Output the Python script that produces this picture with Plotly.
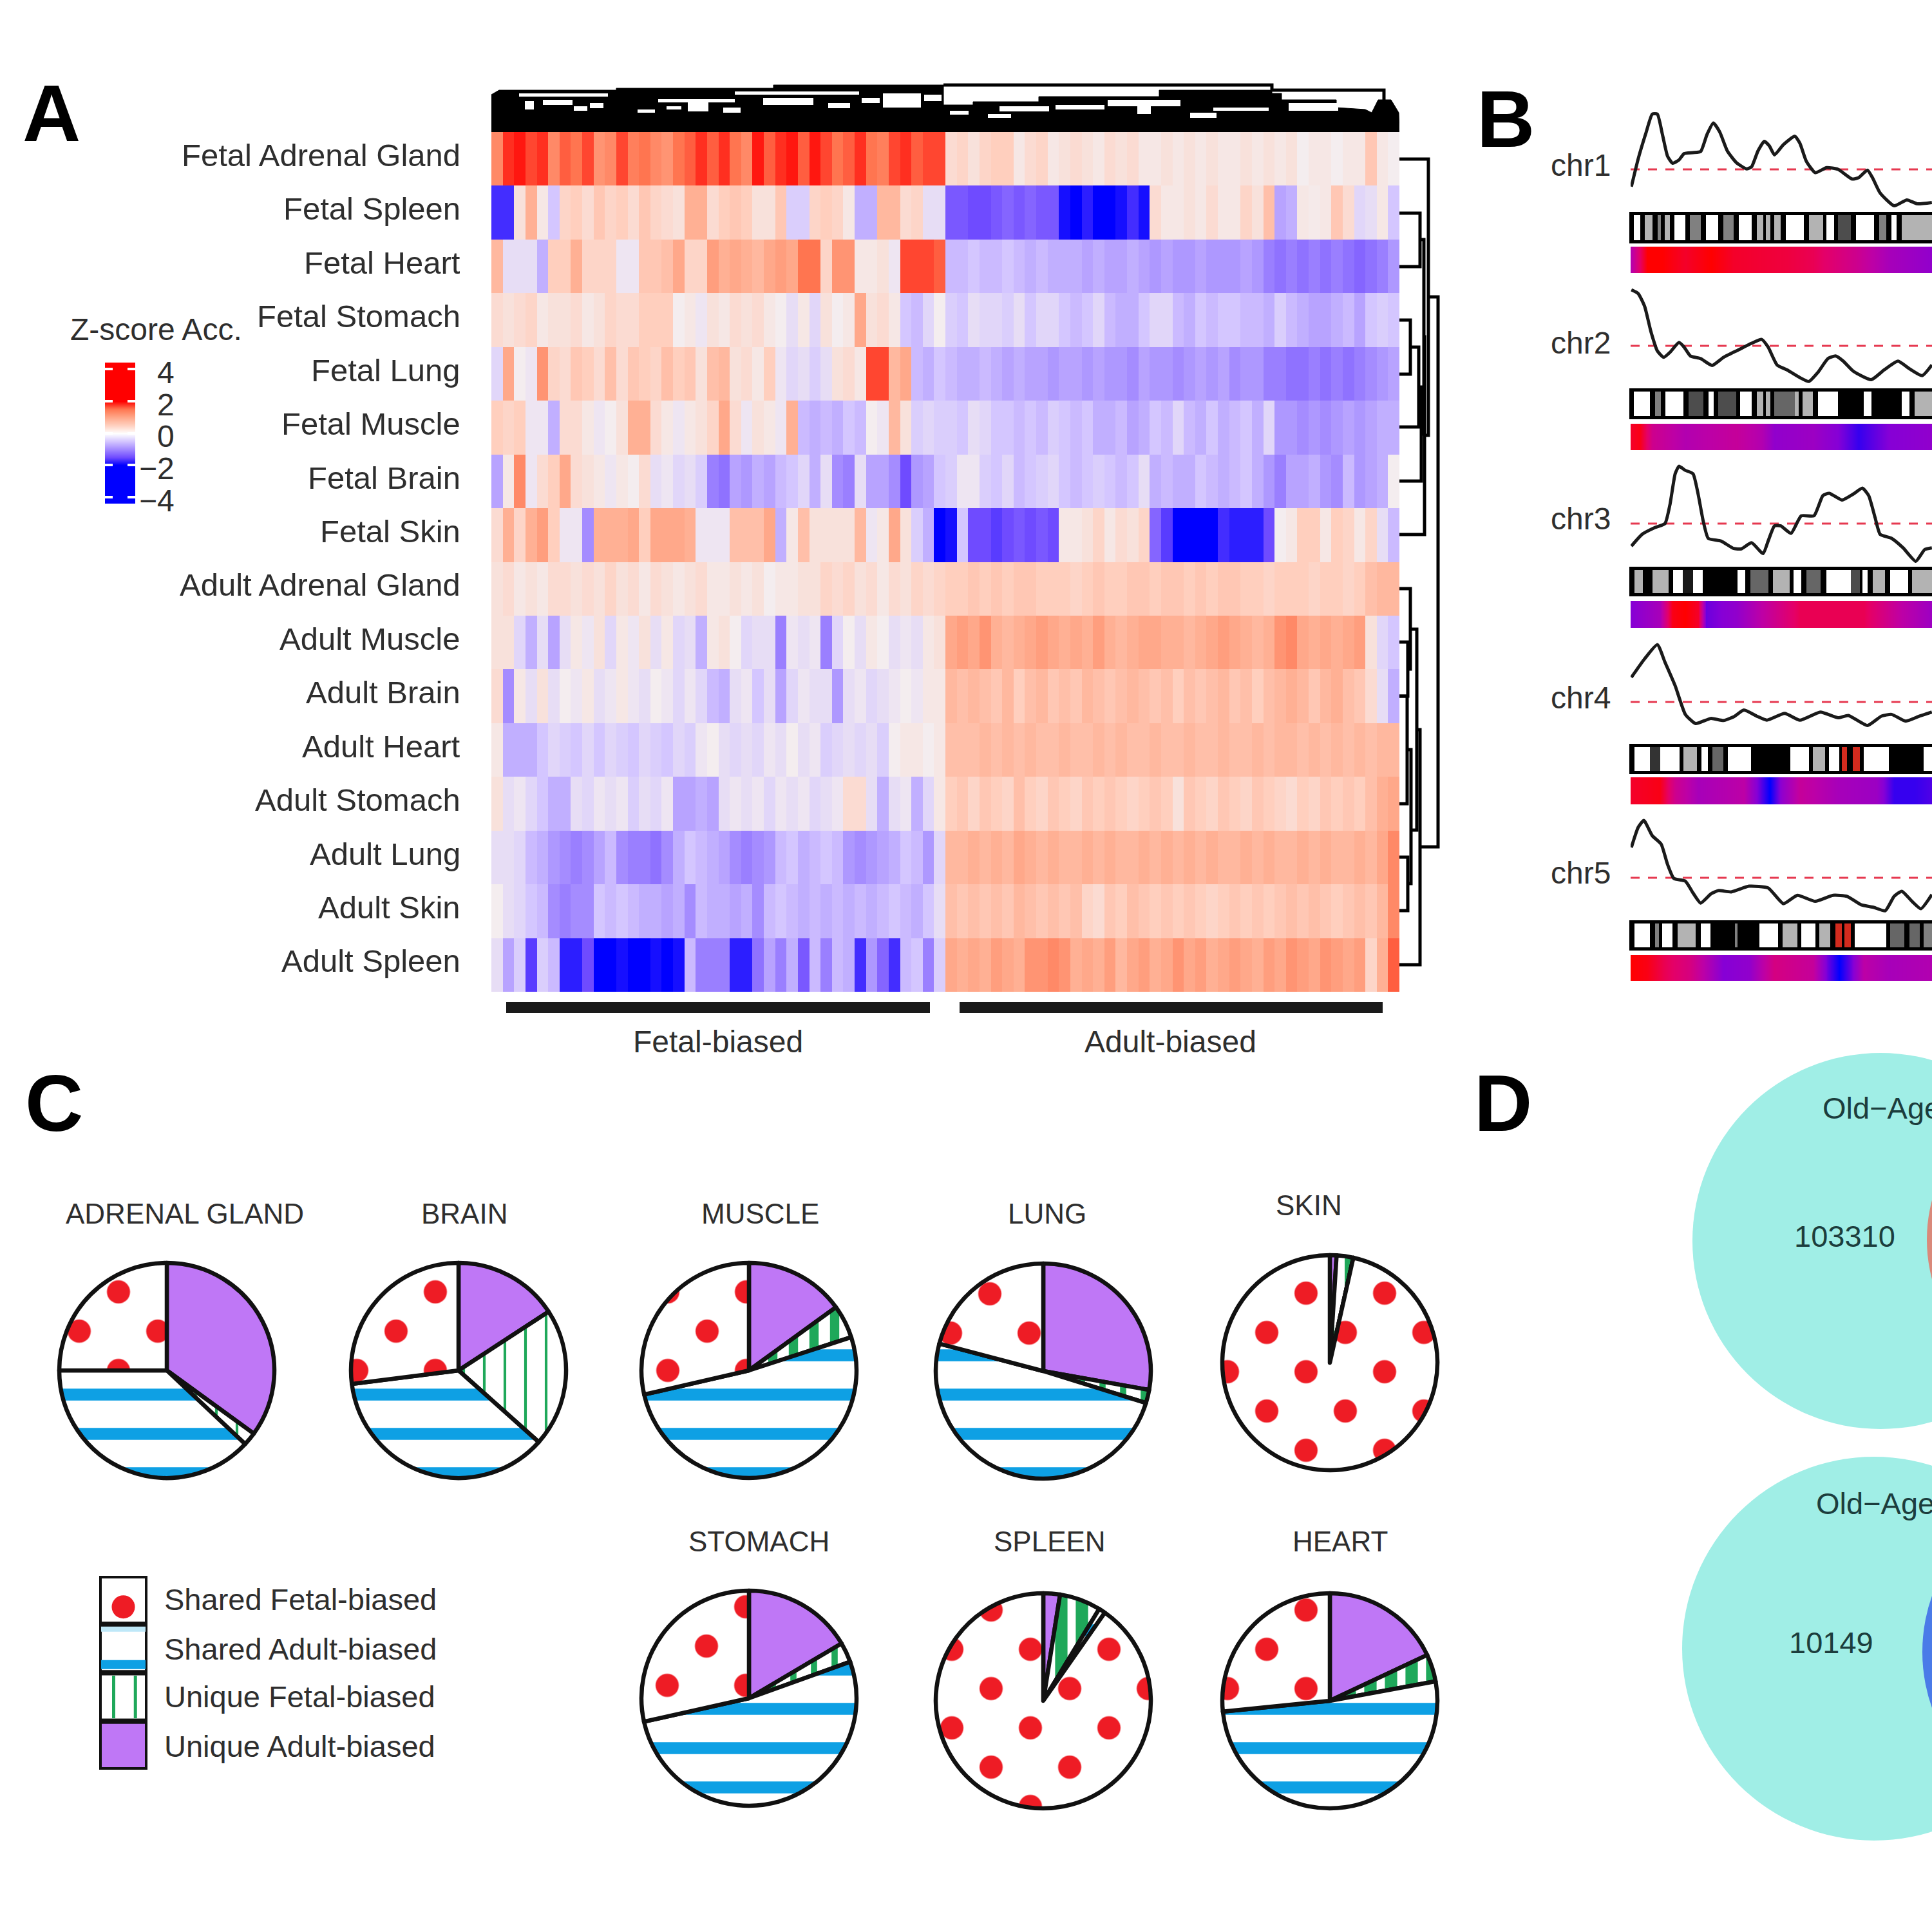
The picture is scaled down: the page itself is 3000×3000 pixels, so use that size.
import json
import plotly.graph_objects as go

# ---------- Panel A data ----------
row_names = ["Fetal Adrenal Gland","Fetal Spleen","Fetal Heart","Fetal Stomach","Fetal Lung","Fetal Muscle","Fetal Brain","Fetal Skin",
             "Adult Adrenal Gland","Adult Muscle","Adult Brain","Adult Heart","Adult Stomach","Adult Lung","Adult Skin","Adult Spleen"]
fetal_adrenal = [1.3,1.8,1.9,1.7,1.8,1.3,1.6,1.5,1.7,1.2, 1.3,1.7,1.4,1.5,1.3,1.2,1.5,1.6,1.8,1.6,
                 1.8,1.5,1.3,1.9,1.6,1.8,1.9,1.6,1.9,1.7, 1.5,1.6,1.8,1.5,1.4,1.7,1.8,1.6,1.7,1.7,
                 .3,.4,.2,.4,.5,.5,.1,.3,.4,.1, .2,.3,.2,.1,.3,.2,.3,.1,.1,.2,
                 .1,.2,.1,.2,.1,.1,.2,.1,.2,.1, .2,0,.1,.1,0,.1,.1,.6,.1,0]
fetal_spleen = [-1.7,-1.7,.2,.9,.1,-.5,.4,.5,.3,.6, .4,.5,.3,.6,.4,.3,.2,.9,.9,.3,
                .5,.6,.5,.2,.2,.6,-.4,-.4,.4,.5, .4,.1,-.7,-.7,.8,.8,.3,.4,-.2,-.2,
                -1.4,-1.4,-1.5,-1.5,-1.4,-1.3,-1.4,-1.3,-1.4,-1.4, -1.9,-2,-1.8,-2,-2,-1.9,-1.7,-1.9,.3,.1,
                .1,.2,.1,.3,.1,.1,.4,.2,.7,-.8, -.7,.1,.05,.1,.6,.3,-.3,-.2,.1,-.5]
fetal_heart = [.8,-.2,-.2,-.2,-.7,.5,.5,.9,.4,.4, .4,-.1,-.1,.6,.6,.7,1.0,.4,.4,1.1,
               .9,1.0,.9,.8,1.0,1.1,1.0,1.5,1.5,.4, 1.2,1.2,.1,.1,.2,-.1,1.7,1.7,1.7,1.6,
               -.6,-.6,-.5,-.6,-.6,-.5,-.6,-.7,-.6,-.7, -.7,-.7,-.8,-.7,-.8,-.8,-.7,-.8,-.9,-.8,
               -.9,-.9,-.8,-.9,-.9,-.9,-.8,-.9,-1.1,-1.2, -1.1,-1.2,-1.1,-1.2,-1.1,-1.2,-1.3,-1.2,-1.1,-.9]
fetal_stomach = [.3,.2,.3,.4,.1,.2,.2,.3,.1,.2, .4,.3,.3,.5,.5,.5,.0,.1,-.1,.2,
                 .1,.3,.2,.3,.1,.0,-.2,.1,-.3,.2, .0,.1,1.0,.2,.3,.1,-.5,-.6,-.3,.0,
                 -.4,-.5,-.2,-.3,-.3,-.4,-.2,-.5,-.3,-.3, -.5,-.6,-.5,-.3,-.6,-.7,-.7,-.5,-.3,-.3,
                 -.6,-.7,-.5,-.6,-.5,-.5,-.6,-.6,-.7,-.4, -.6,-.7,-.8,-.8,-.7,-.6,-.8,-.5,-.4,-.5]
fetal_lung = [-.3,1.0,.0,-.1,1.2,.4,.3,.6,.5,.3, .7,.3,.6,.5,.4,.7,.5,.6,.2,.7,
              .8,.2,.3,.1,.5,-.1,-.3,-.2,-.4,-.2, .2,.3,.1,1.7,1.7,.8,1.0,-.6,-.7,-.5,
              -.6,-.7,-.7,-.6,-.7,-.8,-.7,-.8,-.8,-.9, -.8,-.8,-.9,-.8,-.9,-.9,-1.0,-.8,-.9,-.9,
              -1.0,-.9,-.8,-.9,-.8,-1.0,-.9,-.9,-1.1,-1.1, -1.2,-1.2,-1.1,-1.2,-1.1,-1.2,-1.1,-1.0,-.9,-.8]
fetal_muscle = [.5,.4,.5,-.1,-.1,-.7,.3,.3,.1,-.1, .0,.2,.9,.9,.3,.1,-.1,.1,.2,.4,
                1.0,.3,-.1,.2,.1,-.1,.9,-.6,-.7,-.6, -.7,-.5,-.6,.0,-.1,.8,.2,-.4,-.3,-.4,
                -.4,-.5,-.2,-.3,-.5,-.5,-.6,-.5,-.6,-.4, -.5,-.6,-.5,-.7,-.7,-.6,-.8,-.7,-.5,-.6,
                -.3,-.6,-.7,-.5,-.7,-.6,-.5,-.7,-.3,-.9, -.9,-1.0,-.9,-1.0,-.9,-.8,-.9,-.8,-.7,-.7]
fetal_brain = [-.8,.1,1.3,-.1,.3,.5,1.0,.3,.2,.1, -.1,.1,.0,.3,-.2,-.1,-.3,-.2,-.4,-1.1,
               -1.2,-.8,-.9,-.7,-.8,-.6,-.5,-.3,-.7,-.2, -1.0,-1.1,-.2,-.8,-.8,-1.0,-1.5,-.9,-.8,-.5,
               -.4,-.1,-.1,-.4,-.5,-.3,-.6,-.5,-.4,-.3, -.5,-.6,-.5,-.4,-.5,-.6,-.5,-.2,-.7,-.6,
               -.7,-.7,-.5,-.6,-.7,-.6,-.5,-.7,-.9,-1.1, -.8,-.8,-.7,-.9,-1.0,-.6,-.9,-.8,-.7,.0]
fetal_skin = [.3,.9,.4,.9,1.1,.5,-.1,-.1,-1.0,.9, .9,.9,1.0,.5,1.0,1.0,1.0,.9,-.1,-.1,
              -.1,.7,.7,.7,1.0,-.7,.1,.7,.2,.2, .2,.2,.8,-.1,.1,1.0,.2,-.4,-.7,-2,
              -1.9,-.5,-1.5,-1.5,-1.6,-1.5,-1.4,-1.5,-1.4,-1.5, .1,.1,.2,.4,.1,.3,.2,.4,-1.3,-1.6,
              -2,-2,-2,-2,-1.7,-1.8,-1.8,-1.8,-1.5,.0, .1,.5,.5,.1,.5,.4,.1,.4,-.2,-.6]
adult_adrenal = [.2,.3,.1,.2,.1,.3,.3,.2,.3,.2, .4,.2,.3,.1,.3,.2,.1,.2,.3,.1,
                 .1,.2,.1,.2,.0,.1,.1,.2,.2,.4, .3,.4,.2,.3,.1,.3,.2,.4,.3,.4,
                 .5,.5,.6,.5,.6,.5,.6,.6,.5,.5, .5,.4,.5,.6,.5,.5,.6,.6,.5,.6,
                 .6,.5,.6,.5,.6,.6,.5,.5,.4,.5, .5,.5,.4,.5,.5,.4,.5,.7,.8,.8]
adult_muscle = [.2,.2,-.3,-.7,-.2,-.8,-.2,.1,-.1,.2, -.3,.1,-.1,.2,-.2,.1,-.3,-.2,-.7,.1,
                .2,.0,-.3,-.2,-.2,-1.1,-.1,-.2,-.1,-1.1, -.3,.0,-.2,.1,.0,-.2,-.1,-.2,.1,.2,
                1.0,1.1,1.0,1.2,.9,.8,.9,1.0,1.1,1.0, .9,1.0,.9,1.1,.9,.8,.9,1.0,1.0,.9,
                .9,.8,.9,1.0,1.1,1.0,.9,.8,.9,1.2, 1.3,1.0,.9,1.0,.9,1.0,1.1,.2,-.3,-.5]
adult_brain = [.3,-1.0,.1,-.2,.2,-.2,.0,-.1,.1,-.2, -.1,.1,-.1,-.2,.0,-.1,-.3,-.1,-.3,-.6,
               -.7,-.2,-.1,-.5,-.2,-.8,-.3,-.1,-.2,-.2, -.9,-.2,-.1,-.3,-.2,-.1,.0,-.1,.1,.1,
               .8,.7,.8,.7,.6,.8,.5,.7,.8,.6, .7,.6,.8,.7,.6,.7,.8,.7,.6,.7,
               .5,.7,.6,.7,.8,.6,.7,.5,.7,.8, .9,.8,.6,.8,.9,.7,.6,.3,-.2,-.7]
adult_heart = [.1,-.7,-.7,-.7,-.5,-.3,-.4,-.5,-.3,-.5, -.3,-.4,-.5,-.3,-.4,-.5,-.3,-.4,-.1,.0,
               -.2,-.3,-.2,-.3,-.1,-.2,.0,-.2,-.1,-.4, -.3,-.2,-.3,-.2,-.4,.0,.1,.1,.0,.1,
               .7,.7,.7,.8,.7,.8,.7,.8,.7,.7, .8,.7,.7,.8,.7,.8,.7,.7,.8,.7,
               .7,.8,.7,.7,.8,.7,.7,.8,.7,.8, .8,.7,.8,.7,.8,.7,.8,.7,.8,.8]
adult_stomach = [.2,-.2,-.1,-.3,-.5,-.7,-.7,-.2,-.3,-.1, -.2,-.1,-.4,-.2,-.3,-.1,-.8,-.8,-.7,-.8,
                 -.2,-.1,-.2,-.1,-.3,-.1,-.2,-.1,-.3,-.2, -.1,.3,.3,-.2,-.7,-.2,-.1,-.7,-.3,.1,
                 .5,.6,.4,.6,.5,.4,.7,.5,.4,.6, .5,.4,.6,.5,.6,.5,.4,.5,.6,.5,
                 .2,.6,.5,.4,.6,.5,.4,.6,.5,.4, .3,.5,.4,.6,.5,.6,.5,.7,.9,1.0]
adult_lung = [-.2,-.2,-.3,-.6,-.7,-.9,-1.0,-1.1,-1.0,-.8, -.6,-1.0,-1.1,-1.1,-1.2,-1.0,-.7,-.5,-.6,-.7,
              -.8,-1.0,-1.1,-1.0,-.9,-.6,-.5,-.7,-.6,-.5, -.6,-.9,-1.0,-.9,-.8,-.7,-.5,-.6,-.9,-.3,
              .8,.8,.9,.8,.9,.8,1.0,.9,.8,.9, .8,.8,.9,.8,.9,.8,.8,.9,.8,.9,
              .8,.9,.8,.9,.8,.8,.9,.8,.9,.8, .8,.9,.8,.9,.8,.8,.9,.8,1.0,1.3]
adult_skin = [.0,-.2,-.3,-.5,-.6,-1.0,-1.1,-1.0,-1.0,-.5, -.6,-.5,-.6,-.7,-.7,-.8,-.7,-1.0,-.6,-.7,
              -.7,-.8,-.7,-1.0,-.6,-.5,-.6,-.7,-.6,-.7, -.6,-.7,-.6,-.7,-.6,-.5,-.6,-.7,-.5,-.2,
              .7,.6,.7,.6,.7,.6,.8,.7,.6,.7, .6,.7,.4,.3,.6,.5,.7,.6,.5,.6,
              .5,.6,.5,.4,.5,.6,.5,.6,.5,.6, .7,.6,.7,.6,.5,.6,.7,.6,.8,1.3]
adult_spleen = [-.2,-.8,-.4,-1.6,-.4,-.6,-1.8,-1.8,-1.5,-2, -2,-1.9,-2,-2,-1.9,-2,-1.9,-.6,-1.1,-1.1,
                -1.1,-1.8,-1.8,-1.2,-.8,-1.1,-.7,-1.4,-.6,-1.1, -.6,-.7,-1.7,-.9,-1.3,-1.7,-.6,-.5,-1.1,-.4,
                1.0,.9,1.0,.9,1.1,1.0,.9,1.2,1.2,1.3, 1.2,.9,1.0,.9,1.1,.8,1.0,1.1,.9,1.0,
                1.2,1.0,1.1,.9,1.0,1.1,1.0,.9,1.1,1.0, 1.2,1.1,1.0,1.2,1.1,1.0,1.1,.4,.9,1.6]
heat_rows = [fetal_adrenal,fetal_spleen,fetal_heart,fetal_stomach,fetal_lung,fetal_muscle,fetal_brain,fetal_skin,
             adult_adrenal,adult_muscle,adult_brain,adult_heart,adult_stomach,adult_lung,adult_skin,adult_spleen]
key_values = [4.4,4,3,2,1.5,1,.5,0,-.5,-1,-1.5,-2,-3,-4,-4.4]
key_ticks = [4,2,0,-2,-4]

# column dendrogram (leaf position, height)
den_left_x = [763,763,775,957,957,1201,1201,1465,1465]
den_left_h = [0,58,65,65,68,68,73,73,0]
den_right_x = [1465,1465,1511,1511,1613,1613,1800,1800,1975,1975,1990,1990,2075,2075,2120,2130,2140,2160,2172,2173]
den_right_h = [0,42,42,47,47,55,55,65,65,60,60,50,50,38,35,30,50,50,30,0]
gap_x0 = [806,815,843,891,916,990,1022,1035,1068,1123,1141,1185,1286,1338,1371,1435,1475,1534,1552,1639,1720,1766,1848,1884,2001]
gap_x1 = [944,829,889,912,937,1017,1141,1058,1100,1150,1334,1263,1320,1366,1430,1462,1504,1570,1629,1715,1833,1787,1889,1970,2078]
gap_lo = [55,35,42,33,37,30,46,35,32,30,58,42,37,45,38,48,27,22,32,35,40,28,22,33,33]
gap_hi = [60,48,50,40,45,35,51,40,48,38,63,53,45,53,60,58,33,28,40,42,50,40,30,38,45]

# row dendrogram: each merge joins (ya,ha) and (yb,hb) at height h
merge_ya = [497,539,601,331,372,523,247,997,914,1081,1331,1164,977,1133,461]
merge_yb = [581,663,747,414,674,830,676,1081,1039,1248,1414,1372,1289,1498,1315]
merge_ha = [0,17,30,0,32,38,0,0,0,0,0,12,17,27,45]
merge_hb = [0,0,0,0,34,0,39,0,13,0,0,13,18,0,32]
merge_h  = [17,30,34,32,38,39,45,13,17,12,13,18,27,32,60]

# ---------- Panel B data ----------
chr_names = ["chr1","chr2","chr3","chr4","chr5"]
chr1_pos = [388,415,445,470,490,510,530,550,575,595,630,660,685,710,735,765,800,840,860,885,910,930,950,985,1030,1050,1075,1110,1155,1200,1255,1280,1315,1335,1365,1420,1470,1510,1568]
chr1_sig = [-68,42,142,217,217,137,52,24,37,62,66,70,137,182,147,72,27,2,10,72,110,92,57,97,130,102,32,-13,7,0,-38,-33,-3,-33,-93,-143,-120,-135,-130]
chr2_pos = [388,415,440,465,490,515,540,575,595,620,660,705,750,810,860,900,925,960,1000,1050,1085,1120,1160,1190,1220,1260,1330,1380,1435,1480,1530,1568]
chr2_sig = [220,205,155,55,-20,-45,-25,13,-5,-40,-50,-77,-45,-15,10,25,-5,-75,-95,-125,-140,-105,-50,-40,-60,-100,-133,-95,-60,-90,-117,-75]
chr3_pos = [388,430,480,520,540,560,575,600,630,650,670,690,740,790,820,860,905,925,950,975,1015,1055,1105,1140,1165,1215,1260,1295,1320,1345,1365,1410,1455,1505,1540,1568]
chr3_sig = [-67,-32,-12,0,58,148,170,158,148,88,8,-44,-52,-74,-75,-57,-89,-52,-7,-7,-29,23,23,83,90,70,88,105,83,18,-32,-44,-72,-112,-77,-72]
chr4_pos = [388,440,490,520,560,600,640,700,750,790,830,880,920,990,1050,1130,1200,1240,1315,1370,1410,1465,1520,1568]
chr4_sig = [73,128,170,118,48,-37,-64,-49,-55,-44,-24,-42,-54,-34,-54,-30,-47,-40,-70,-42,-37,-57,-42,-30]
chr5_pos = [388,415,437,470,505,530,555,600,630,660,700,730,780,850,925,985,1040,1110,1180,1235,1290,1340,1385,1420,1450,1490,1525,1568]
chr5_sig = [90,150,170,125,100,40,-2,-10,-45,-75,-48,-38,-42,-25,-30,-77,-52,-70,-52,-55,-80,-88,-98,-55,-40,-70,-92,-50]

chr1_edges = [385,398,422,440,470,490,505,520,540,558,600,618,660,680,730,750,790,810,860,880,905,915,935,950,975,995,1065,1085,1140,1155,1185,1200,1250,1270,1340,1360,1390,1410,1430,1450,1570]
chr1_bands = [1,0,1,.3,1,.5,1,.3,1,0,1,.5,1,0,1,.5,1,0,1,.3,1,.3,1,.3,1,0,1,.3,1,0,1,.7,1,0,1,.5,1,0,1,.3]
chr2_edges = [385,398,462,480,505,522,592,612,670,690,712,730,800,815,860,880,905,915,935,950,1030,1045,1060,1100,1120,1200,1300,1330,1450,1480,1500,1570]
chr2_bands = [1,0,1,.5,1,0,1,.7,1,0,1,.7,1,0,1,.3,1,.3,1,.6,.3,1,.3,1,0,1,0,1,0,1,.3]
chr3_edges = [385,400,432,470,535,552,590,630,668,805,835,855,925,945,1010,1025,1055,1075,1130,1155,1250,1285,1295,1315,1335,1385,1403,1475,1490,1570]
chr3_bands = [1,.3,1,.3,1,0,.9,0,1,0,1,.6,1,.3,1,0,1,.6,1,0,.7,1,0,1,.3,1,0,1,.3]
chr4_edges = [385,400,462,502,578,592,645,662,688,705,748,768,858,1012,1085,1100,1150,1163,1205,1215,1235,1258,1285,1300,1400,1535,1570]
chr4_bands = [1,0,.8,0,1,.3,1,0,1,.6,1,0,1,0,1,.3,1,0,1,2,1,2,1,0,1,0]
chr5_edges = [385,400,462,480,495,510,550,570,640,660,698,795,805,890,965,982,1040,1055,1112,1125,1170,1190,1215,1225,1250,1265,1390,1405,1460,1480,1520,1535,1570]
chr5_bands = [1,0,1,.5,1,0,1,.3,1,0,1,.5,1,0,1,.3,1,0,1,.3,1,2,1,2,1,0,1,.6,1,.6,1,.5]

chr1_dpos = [385,450,510,600,700,790,1000,1100,1270,1400,1570]
chr1_dens = [.45,1,1,.9,1,.9,.85,.8,.6,.4,.3]
chr2_dpos = [385,420,470,600,800,900,950,1100,1200,1280,1400,1570]
chr2_dens = [.9,.95,.6,.45,.55,.45,.3,.35,.25,.1,.25,.3]
chr3_dpos = [385,500,550,600,650,680,800,950,1050,1300,1450,1570]
chr3_dens = [.25,.4,.95,1,.9,.2,.3,.6,.8,.8,.5,.35]
chr4_dpos = [385,500,560,650,830,880,930,980,1050,1200,1350,1420,1500,1570]
chr4_dens = [.9,.95,.6,.4,.5,.25,0,.3,.55,.4,.35,.1,.1,.15]
chr5_dpos = [385,450,520,620,750,850,950,1100,1160,1205,1250,1300,1400,1570]
chr5_dens = [1,.95,.8,.65,.25,.3,.65,.55,.2,0,.2,.5,.4,.45]

# ---------- Panel C data ----------
slice_names = ["Unique Adult-biased","Unique Fetal-biased","Shared Adult-biased","Shared Fetal-biased"]
pie_tissue = ["ADRENAL GLAND","BRAIN","MUSCLE","LUNG","SKIN","STOMACH","SPLEEN","HEART"]
adrenal_vals = [35,2,38,25]
brain_vals = [15.8,20.8,36.4,27]
muscle_vals = [15,5,51.4,28.6]
lung_vals = [27.8,2,49.3,20.9]
skin_vals = [1,2.5,0,96.5]
stomach_vals = [16.5,3,52,28.5]
spleen_vals = [2.5,6.2,1,90.3]
heart_vals = [18,4.1,51.3,26.6]
pie_vals = [adrenal_vals,brain_vals,muscle_vals,lung_vals,skin_vals,stomach_vals,spleen_vals,heart_vals]
legend_names = ["Shared Fetal-biased","Shared Adult-biased","Unique Fetal-biased","Unique Adult-biased"]

# ---------- Panel D data ----------
venn_counts = ["103310","10149"]

# ---------- layout helpers ----------
W = 3000
TXT = "#2e2e2e"
FONT = "Liberation Sans"
def px(a): return a/W
def py(a): return 1-a/W
def xdom(a, b): return [max(px(a), 0), min(px(b), 1)]
def ydom(a, b): return [py(b), min(py(a), 1)]
layout = {}
count = [0]
def axes(x0, x1, y0, y1, xr, yr, xextra=None, yextra=None):
    count[0] += 1
    n = count[0]
    sfx = "" if n == 1 else str(n)
    xa = dict(domain=xdom(x0, x1), range=xr, anchor="y"+sfx, visible=False, showgrid=False, zeroline=False, fixedrange=True)
    ya = dict(domain=ydom(y0, y1), range=yr, anchor="x"+sfx, visible=False, showgrid=False, zeroline=False, fixedrange=True)
    xa.update(xextra or {}); ya.update(yextra or {})
    layout["xaxis"+sfx] = xa
    layout["yaxis"+sfx] = ya
    return "x"+sfx, "y"+sfx

fig = go.Figure()
ann = []
def text(x, y, s, size=48, anchor="center", color=TXT):
    ann.append(dict(x=px(x), y=py(y), xref="paper", yref="paper", text=s, showarrow=False, xanchor=anchor, yanchor="middle",
                    font=dict(size=size, family=FONT, color=color), align="left"))

KEY_SCALE = [[0,"#0000FF"],[.125,"#6F4BFF"],[.25,"#A58CFF"],[.375,"#D4C6FF"],[.5,"#FFFFFF"],[.625,"#FFCFBE"],[.75,"#FFA88A"],[.875,"#FF7550"],[1,"#FF0000"]]
HEAT_SCALE = [[0,"#0000FF"],[.125,"#6F4BFF"],[.25,"#A58CFF"],[.375,"#D4C6FF"],[.5,"#F4EDEF"],[.625,"#FFCFBE"],[.75,"#FFA88A"],[.875,"#FF7550"],[1,"#FF0000"]]

# ---------- Panel A ----------
xa, ya = axes(763, 2173, 205, 1540, [-.5, 79.5], [15.5, -.5])
fig.add_trace(go.Heatmap(z=heat_rows, y=list(range(16)), x=list(range(80)), colorscale=HEAT_SCALE, zmin=-2, zmax=2, showscale=False, hoverinfo="skip", xaxis=xa, yaxis=ya))
for i, name in enumerate(row_names):
    ann.append(dict(x=px(717), xref="paper", y=i-.07, yref=ya, text=name, showarrow=False, xanchor="right", yanchor="middle",
                    font=dict(size=49, family=FONT, color=TXT)))

# column dendrogram
xa, ya = axes(763, 2173, 129, 205, [763, 2173], [0, 76])
fig.add_trace(go.Scatter(x=den_left_x, y=den_left_h, mode="lines", fill="toself", fillcolor="#000", line=dict(color="#000", width=1), hoverinfo="skip", xaxis=xa, yaxis=ya))
fig.add_trace(go.Scatter(x=den_right_x, y=den_right_h, mode="lines", fill="toself", fillcolor="#000", line=dict(color="#000", width=1), hoverinfo="skip", xaxis=xa, yaxis=ya))
gx, gy = [], []
for a, b, lo, hi in zip(gap_x0, gap_x1, gap_lo, gap_hi):
    gx += [a, b, b, a, a, None]; gy += [lo, lo, hi, hi, lo, None]
fig.add_trace(go.Scatter(x=gx, y=gy, mode="lines", fill="toself", fillcolor="#ffffff", line=dict(width=0), hoverinfo="skip", xaxis=xa, yaxis=ya))
fig.add_trace(go.Scatter(x=[1465,1975,1975,2149,2149], y=[73,73,65,61,50], mode="lines", line=dict(color="#000", width=5, shape="hv"), hoverinfo="skip", xaxis=xa, yaxis=ya))

# row dendrogram
xa, ya = axes(2173, 2240, 205, 1540, [0, 67], [1540, 205])
dx, dy = [], []
for yaa, ybb, haa, hbb, hh in zip(merge_ya, merge_yb, merge_ha, merge_hb, merge_h):
    dx += [haa, hh, hh, hbb, None]; dy += [yaa, yaa, ybb, ybb, None]
fig.add_trace(go.Scatter(x=dx, y=dy, mode="lines", line=dict(color="#000", width=5), hoverinfo="skip", xaxis=xa, yaxis=ya))

# colour key
xa, ya = axes(163, 210, 563, 782, [0, 1], [-4.4, 4.4],
              yextra=dict(visible=True, tickvals=key_ticks, ticks="inside", ticklen=12, tickwidth=4, tickcolor="#fff", mirror="ticks", showticklabels=False, showline=False))
fig.add_trace(go.Heatmap(z=[[v, v] for v in key_values], x=[0, 1], y=key_values, colorscale=KEY_SCALE, zmin=-2, zmax=2, zsmooth="best", showscale=False, hoverinfo="skip", xaxis=xa, yaxis=ya))
for t in key_ticks:
    ann.append(dict(x=px(273), xref="paper", y=t-0.22, yref=ya, text=str(t).replace("-", "\u2212"), showarrow=False, xanchor="right", yanchor="middle",
                    font=dict(size=48, family=FONT, color=TXT)))
text(242, 512, "Z-score Acc.")
text(1115, 1617, "Fetal-biased")
text(1817, 1617, "Adult-biased")

# ---------- Panel B ----------
chr_pos = [chr1_pos,chr2_pos,chr3_pos,chr4_pos,chr5_pos]
chr_sig = [chr1_sig,chr2_sig,chr3_sig,chr4_sig,chr5_sig]
chr_edges = [chr1_edges,chr2_edges,chr3_edges,chr4_edges,chr5_edges]
chr_bands = [chr1_bands,chr2_bands,chr3_bands,chr4_bands,chr5_bands]
chr_dpos = [chr1_dpos,chr2_dpos,chr3_dpos,chr4_dpos,chr5_dpos]
chr_dens = [chr1_dens,chr2_dens,chr3_dens,chr4_dens,chr5_dens]
dash_y = [263,537,813,1090,1363]
scale_y = [2.529,2.529,1.912,1.912,1.912]
ideo_y = [(334,373),(608,646),(885,921),(1160,1197),(1434,1471)]
dens_y = [(383,424),(658,699),(933,975),(1207,1249),(1483,1523)]
label_y = [256,532,806,1083,1356]
X_RANGE = [385, 385+(3000-2532)*2.529]
BAND_SCALE = [[0,"#ffffff"],[.5,"#000000"],[.75,"#000000"],[.75,"#D32B1E"],[1,"#D32B1E"]]
DENS_SCALE = [[0,"#0000FF"],[.25,"#8600D6"],[.5,"#BD00A6"],[.75,"#E40068"],[1,"#FF0000"]]
for i in range(5):
    f = scale_y[i]
    top, bot = dash_y[i]-100, dash_y[i]+70
    xa, ya = axes(2532, 3000, top, bot, X_RANGE, [-70*f, 100*f])
    fig.add_trace(go.Scatter(x=X_RANGE, y=[0, 0], mode="lines", line=dict(color="#E63950", width=3, dash="14px,13px"), hoverinfo="skip", xaxis=xa, yaxis=ya))
    fig.add_trace(go.Scatter(x=chr_pos[i], y=chr_sig[i], mode="lines", line=dict(color="#1a1a1a", width=5, shape="spline", smoothing=.5), hoverinfo="skip", xaxis=xa, yaxis=ya))
    text(2503, label_y[i], chr_names[i], anchor="right")
    frame = dict(visible=True, showline=True, mirror=True, linecolor="#000", linewidth=5, ticks="", showticklabels=False)
    xa, ya = axes(2535, 3000, ideo_y[i][0], ideo_y[i][1], [385+3*2.529, X_RANGE[1]], [0, 1], xextra=frame, yextra=frame)
    fig.add_trace(go.Heatmap(z=[chr_bands[i]], x=chr_edges[i], y=[0, 1], colorscale=BAND_SCALE, zmin=0, zmax=2, showscale=False, hoverinfo="skip", xaxis=xa, yaxis=ya))
    xa, ya = axes(2532, 3000, dens_y[i][0], dens_y[i][1], X_RANGE, [0, 1])
    fig.add_trace(go.Heatmap(z=[chr_dens[i], chr_dens[i]], x=chr_dpos[i], y=[0, 1], colorscale=DENS_SCALE, zmin=0, zmax=1, zsmooth="best", showscale=False, hoverinfo="skip", xaxis=xa, yaxis=ya))

# ---------- Panel C ----------
pie_cx = [259,712,1163,1620,2065,1163,1620,2065]
pie_cy = [2128,2128,2128,2129,2116,2637,2641,2641]
title_x = [287,721,1180,1626,2032,1178,1630,2081]
title_y = [1884,1884,1884,1884,1871,2393,2393,2393]
green_solid = [.13,.13,.45,.3,.5,.3,.6,.6]
dot_dx = [-75,-36,-4,-22,-37,-5,41,-37]
dot_dy = [0,0,0,-59,14,-20,-19,-19]
R = 167
for i in range(8):
    cx, cy = pie_cx[i], pie_cy[i]
    fig.add_trace(go.Pie(values=pie_vals[i], labels=slice_names, sort=False, direction="clockwise", rotation=0, textinfo="none",
                         hoverinfo="skip", showlegend=False,
                         domain=dict(x=xdom(cx-R, cx+R), y=ydom(cy-R, cy+R)),
                         marker=dict(colors=["#BF77F6","#ffffff","#ffffff","#ffffff"], line=dict(color="#111", width=6.5),
                                     pattern=dict(shape=["","|","-","."], fgcolor=["#BF77F6","#1FA85A","#0EA0E4","#EE1C25"],
                                                  bgcolor=["#BF77F6","#ffffff","#ffffff","#ffffff"],
                                                  size=[10,32,61,122], solidity=[.1,green_solid[i],.3,.0684]))))
    text(title_x[i], title_y[i], pie_tissue[i], size=44)

# legend of panel C, drawn as a stacked column
xa, ya = axes(154, 229, 2447, 2748, [0, 1], [4, 0])
fig.add_trace(go.Bar(x=[.5]*4, y=[1]*4, base=[0, 1, 2, 3], width=1, hoverinfo="skip",
                     marker=dict(color=["#ffffff","#ffffff","#ffffff","#BF77F6"], line=dict(color="#111", width=8)), xaxis=xa, yaxis=ya))
fig.add_trace(go.Scatter(x=[.5], y=[.64], mode="markers", marker=dict(color="#EE1C25", size=36), hoverinfo="skip", xaxis=xa, yaxis=ya))
fig.add_trace(go.Scatter(x=[.04, .96], y=[1.83, 1.83], mode="lines", line=dict(color="#0EA0E4", width=14), hoverinfo="skip", xaxis=xa, yaxis=ya))
fig.add_trace(go.Scatter(x=[.04, .96], y=[1.1, 1.1], mode="lines", line=dict(color="#BFE8F8", width=8), hoverinfo="skip", xaxis=xa, yaxis=ya))
fig.add_trace(go.Scatter(x=[.3, .3, None, .75, .75], y=[2.06, 2.94, None, 2.06, 2.94], mode="lines", line=dict(color="#1FA85A", width=5), hoverinfo="skip", xaxis=xa, yaxis=ya))
for name, y in zip(legend_names, [2483, 2560, 2634, 2711]):
    text(253, y, name, size=47, anchor="left")

# ---------- Panel D ----------
shapes = []
def circle(cx, cy, r, color):
    shapes.append(dict(type="circle", xref="paper", yref="paper", x0=px(cx-r), x1=px(cx+r), y0=py(cy+r), y1=py(cy-r),
                       fillcolor=color, line=dict(width=0), layer="below"))
circle(2920, 1927, 292, "#A0EEE6")
circle(2910, 2560, 298, "#A0EEE6")
circle(3232, 1925, 240, "#D9897A")
circle(3245, 2565, 260, "#4A7BE8")
text(2828, 1720, "Old\u2212Age", size=47, anchor="left", color="#1c3d3d")
text(2818, 2334, "Old\u2212Age", size=47, anchor="left", color="#1c3d3d")
text(2864, 1919, venn_counts[0], size=47, color="#1c3d3d")
text(2843, 2550, venn_counts[1], size=47, color="#1c3d3d")

# column group bars
for a, b in [(786, 1444), (1490, 2147)]:
    shapes.append(dict(type="rect", xref="paper", yref="paper", x0=px(a), x1=px(b), y0=py(1573), y1=py(1556), fillcolor="#1a1a1a", line=dict(width=0)))

# panel letters
for s, x, y in [("A", 80, 176), ("B", 2338, 184), ("C", 84, 1712), ("D", 2334, 1712)]:
    ann.append(dict(x=px(x), y=py(y), xref="paper", yref="paper", text="<b>"+s+"</b>", showarrow=False, xanchor="center", yanchor="middle",
                    font=dict(size=125, family=FONT, color="#000")))

fig.update_layout(width=W, height=W, autosize=False, margin=dict(l=0, r=0, t=0, b=0, autoexpand=False), paper_bgcolor="#ffffff", plot_bgcolor="rgba(0,0,0,0)",
                  showlegend=False, shapes=shapes, annotations=ann, barmode="overlay", **layout)

# page margin off; the pies' dot lattice is staggered, so each dot tile gets a second dot and the pie's own phase
phase = [[pie_cx[i]+dot_dx[i], pie_cy[i]+dot_dy[i]] for i in range(8)]
page_script = """
document.documentElement.style.overflow='hidden';document.body.style.margin='0';
var phase=%s;var k=0;
document.querySelectorAll('pattern').forEach(function(p){
  var c=p.querySelector('circle');var w=p.getAttribute('width');
  if(c){var ph=phase[k%%8];k++;
    c.setAttribute('cx',30.5);c.setAttribute('cy',30.5);c.setAttribute('r',18);
    var d=c.cloneNode();d.setAttribute('cx',91.5);d.setAttribute('cy',91.5);p.appendChild(d);
    p.setAttribute('patternTransform','translate('+(ph[0]-30.5)+','+(ph[1]-30.5)+')');
  } else if(w=='32'){p.setAttribute('patternTransform','translate(-5,0)');}
  else if(w=='61'){p.setAttribute('patternTransform','translate(0,-4)');}
});
""" % json.dumps(phase)
fig.write_html("out.html", post_script=page_script, config={"displayModeBar": False})
